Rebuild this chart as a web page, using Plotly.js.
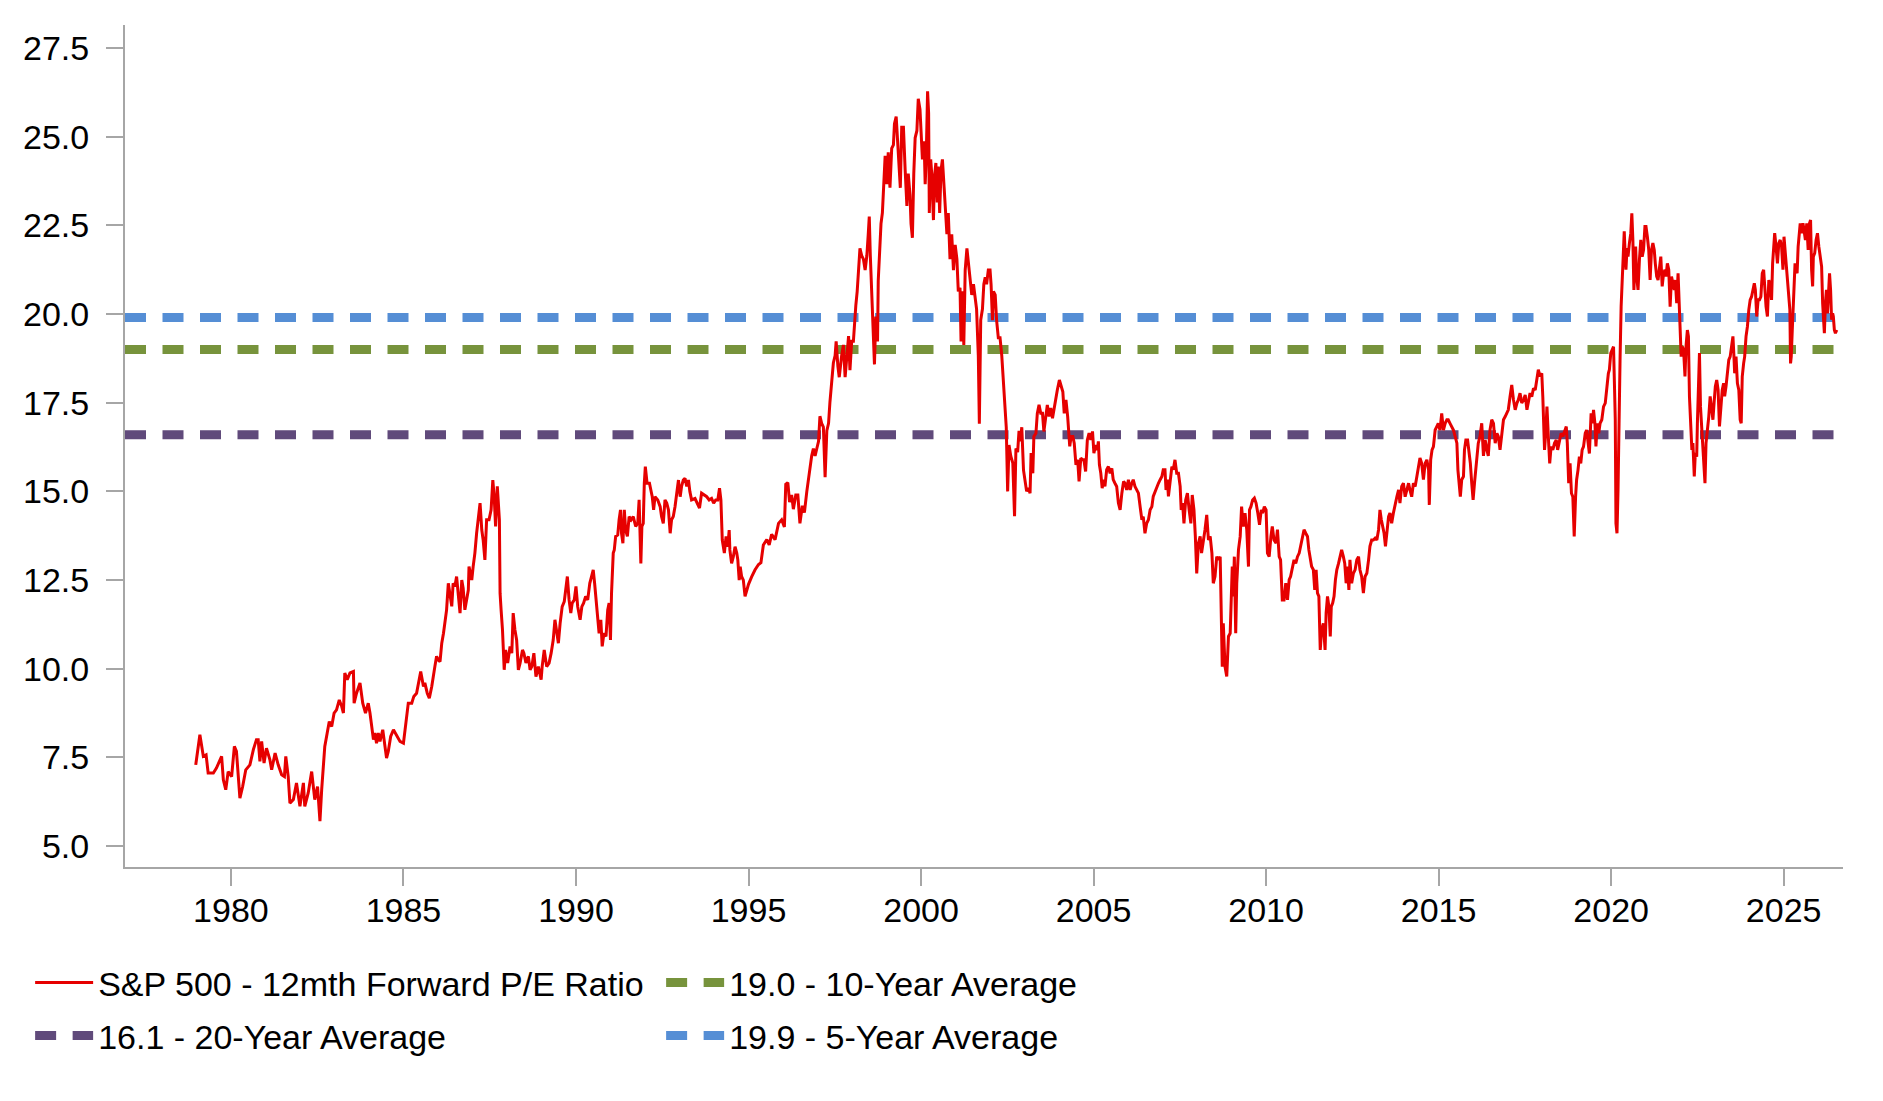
<!DOCTYPE html>
<html>
<head>
<meta charset="utf-8">
<script src="https://cdn.plot.ly/plotly-3.0.1.min.js"></script>
<style>
  html, body { margin: 0; padding: 0; background: #fff; }
  #chart { width: 1883px; height: 1101px; }
</style>
</head>
<body>
<div id="chart"></div>
<script>
// S&P 500 12mth forward P/E (x in decimal years)
const dates = [
  1978.98, 1979.10, 1979.20, 1979.28, 1979.34, 1979.49, 1979.58, 1979.73, 1979.78, 1979.85, 1979.92,
  1980.02, 1980.10, 1980.16, 1980.26, 1980.34, 1980.43, 1980.55, 1980.65, 1980.74, 1980.79, 1980.84, 1980.89, 1980.96,
  1981.03, 1981.13, 1981.18, 1981.28, 1981.37, 1981.47, 1981.55, 1981.59, 1981.66, 1981.71, 1981.81, 1981.90,
  1982.00, 1982.10, 1982.14, 1982.24, 1982.34, 1982.43, 1982.51, 1982.58, 1982.63, 1982.68, 1982.72, 1982.79, 1982.85, 1982.92, 1982.99,
  1983.06, 1983.14, 1983.21, 1983.26, 1983.30, 1983.37, 1983.45, 1983.55, 1983.57, 1983.64, 1983.74, 1983.82, 1983.90, 1983.98,
  1984.03, 1984.08, 1984.13, 1984.17, 1984.22, 1984.27, 1984.32, 1984.40, 1984.51, 1984.56, 1984.63, 1984.71, 1984.80, 1984.90,
  1985.00, 1985.07, 1985.14, 1985.24, 1985.30, 1985.38, 1985.46, 1985.50, 1985.58, 1985.62, 1985.69, 1985.75, 1985.82, 1985.87, 1985.91, 1985.96,
  1986.01, 1986.06, 1986.11, 1986.16, 1986.20, 1986.25, 1986.30, 1986.35, 1986.40, 1986.44, 1986.49, 1986.54, 1986.59, 1986.64, 1986.69, 1986.73,
  1986.78, 1986.88, 1986.90, 1986.98,
  1987.02, 1987.07, 1987.12, 1987.17, 1987.22, 1987.27, 1987.31, 1987.36, 1987.41, 1987.48, 1987.54, 1987.59, 1987.63, 1987.67, 1987.72, 1987.78, 1987.80, 1987.83, 1987.87, 1987.92, 1987.96,
  1988.02, 1988.09, 1988.14, 1988.18, 1988.23, 1988.28, 1988.33, 1988.38, 1988.45, 1988.49, 1988.55, 1988.62, 1988.67, 1988.72, 1988.78, 1988.84, 1988.91, 1988.99,
  1989.02, 1989.08, 1989.15, 1989.22, 1989.28, 1989.34, 1989.39, 1989.44, 1989.49, 1989.54, 1989.60, 1989.66, 1989.71, 1989.75, 1989.80, 1989.85, 1989.89, 1989.95,
  1990.00, 1990.05, 1990.12, 1990.17, 1990.22, 1990.28, 1990.34, 1990.40, 1990.45, 1990.50, 1990.54, 1990.59, 1990.63, 1990.67, 1990.72, 1990.76, 1990.81, 1990.87, 1990.92, 1990.96,
  1991.00, 1991.03, 1991.08, 1991.11, 1991.15, 1991.21, 1991.25, 1991.29, 1991.32, 1991.36, 1991.40, 1991.44, 1991.49, 1991.54, 1991.60, 1991.66, 1991.73, 1991.79, 1991.83, 1991.88, 1991.91, 1991.95, 1991.98,
  1992.01, 1992.06, 1992.13, 1992.17, 1992.21, 1992.25, 1992.29, 1992.37, 1992.44, 1992.48, 1992.53, 1992.58, 1992.63, 1992.68, 1992.73, 1992.77, 1992.82, 1992.87, 1992.92, 1992.97,
  1993.02, 1993.06, 1993.11, 1993.16, 1993.21, 1993.26, 1993.30, 1993.35, 1993.45, 1993.52, 1993.58, 1993.64, 1993.72, 1993.79, 1993.86, 1993.93, 1993.99,
  1994.05, 1994.11, 1994.16, 1994.20, 1994.22, 1994.24, 1994.30, 1994.35, 1994.40, 1994.44, 1994.46, 1994.51, 1994.56, 1994.61, 1994.66, 1994.69, 1994.73, 1994.76, 1994.80, 1994.85, 1994.90, 1994.95,
  1995.00, 1995.09, 1995.19, 1995.29, 1995.36, 1995.43, 1995.53, 1995.60, 1995.67, 1995.77, 1995.87, 1995.96,
  1996.04, 1996.08, 1996.14, 1996.19, 1996.25, 1996.30, 1996.37, 1996.43, 1996.49, 1996.56, 1996.62, 1996.69, 1996.74, 1996.78, 1996.83, 1996.88, 1996.93, 1996.98,
  1997.03, 1997.07, 1997.12, 1997.17, 1997.22, 1997.27, 1997.32, 1997.36, 1997.41, 1997.46, 1997.51, 1997.54, 1997.59, 1997.63, 1997.70, 1997.75, 1997.80, 1997.85, 1997.90, 1997.94, 1997.99,
  1998.04, 1998.07, 1998.11, 1998.15, 1998.19, 1998.23, 1998.28, 1998.33, 1998.38, 1998.43, 1998.47, 1998.50, 1998.53, 1998.57, 1998.62, 1998.65, 1998.69, 1998.74, 1998.76, 1998.81, 1998.84, 1998.88, 1998.92, 1998.96,
  1999.01, 1999.05, 1999.10, 1999.15, 1999.20, 1999.23, 1999.28, 1999.33, 1999.36, 1999.40, 1999.44, 1999.49, 1999.54, 1999.59, 1999.63, 1999.68, 1999.71, 1999.75, 1999.79, 1999.83, 1999.88, 1999.92, 1999.97,
  2000.00, 2000.04, 2000.09, 2000.12, 2000.15, 2000.19, 2000.22, 2000.24, 2000.28, 2000.31, 2000.36, 2000.39, 2000.43, 2000.47, 2000.50, 2000.54, 2000.58, 2000.62, 2000.67, 2000.70, 2000.75, 2000.79, 2000.84, 2000.89, 2000.94, 2000.99,
  2001.04, 2001.08, 2001.13, 2001.16, 2001.20, 2001.24, 2001.28, 2001.33, 2001.37, 2001.42, 2001.47, 2001.52, 2001.57, 2001.61, 2001.66, 2001.69, 2001.73, 2001.78, 2001.82, 2001.86, 2001.90, 2001.95,
  2002.00, 2002.03, 2002.07, 2002.10, 2002.15, 2002.19, 2002.24, 2002.29, 2002.34, 2002.39, 2002.42, 2002.47, 2002.51, 2002.55, 2002.60, 2002.66, 2002.71, 2002.75, 2002.80, 2002.84, 2002.88, 2002.92, 2002.97,
  2003.02, 2003.06, 2003.11, 2003.16, 2003.19, 2003.24, 2003.27, 2003.33, 2003.37, 2003.42, 2003.47, 2003.52, 2003.56, 2003.61, 2003.66, 2003.71, 2003.76, 2003.81, 2003.86, 2003.91, 2003.95,
  2004.01, 2004.06, 2004.11, 2004.15, 2004.20, 2004.25, 2004.28, 2004.31, 2004.35, 2004.40, 2004.44, 2004.49, 2004.54, 2004.58, 2004.63, 2004.68, 2004.72, 2004.77, 2004.82, 2004.87, 2004.92, 2004.97,
  2005.01, 2005.06, 2005.11, 2005.14, 2005.17, 2005.21, 2005.25, 2005.29, 2005.33, 2005.38, 2005.43, 2005.48, 2005.53, 2005.57, 2005.62, 2005.67, 2005.72, 2005.77, 2005.82, 2005.87, 2005.91, 2005.96,
  2006.01, 2006.06, 2006.11, 2006.15, 2006.20, 2006.25, 2006.30, 2006.35, 2006.40, 2006.44, 2006.49, 2006.54, 2006.59, 2006.64, 2006.69, 2006.73, 2006.78, 2006.83, 2006.88, 2006.93, 2006.98,
  2007.02, 2007.07, 2007.10, 2007.14, 2007.17, 2007.22, 2007.27, 2007.31, 2007.36, 2007.41, 2007.46, 2007.51, 2007.54, 2007.58, 2007.62, 2007.67, 2007.72, 2007.77, 2007.82, 2007.86, 2007.91, 2007.95, 2007.99,
  2008.04, 2008.09, 2008.13, 2008.18, 2008.23, 2008.28, 2008.33, 2008.38, 2008.43, 2008.47, 2008.52, 2008.57, 2008.62, 2008.67, 2008.70, 2008.73, 2008.76, 2008.81, 2008.86, 2008.91, 2008.96, 2008.99,
  2009.02, 2009.05, 2009.08, 2009.12, 2009.15, 2009.20, 2009.25, 2009.29, 2009.34, 2009.39, 2009.44, 2009.49, 2009.52, 2009.56, 2009.61, 2009.66, 2009.71, 2009.76, 2009.81, 2009.86, 2009.90, 2009.95,
  2010.00, 2010.04, 2010.09, 2010.14, 2010.18, 2010.23, 2010.29, 2010.33, 2010.38, 2010.42, 2010.47, 2010.52, 2010.57, 2010.62, 2010.67, 2010.71, 2010.76, 2010.81, 2010.86, 2010.91, 2010.96,
  2011.00, 2011.05, 2011.10, 2011.15, 2011.20, 2011.24, 2011.32, 2011.37, 2011.41, 2011.45, 2011.49, 2011.53, 2011.57, 2011.61, 2011.66, 2011.71, 2011.74, 2011.78, 2011.82, 2011.86, 2011.89, 2011.93, 2011.97,
  2012.01, 2012.05, 2012.10, 2012.14, 2012.19, 2012.24, 2012.28, 2012.32, 2012.36, 2012.40, 2012.43, 2012.48, 2012.53, 2012.58, 2012.63, 2012.68, 2012.72, 2012.77, 2012.82, 2012.87, 2012.92, 2012.97,
  2013.01, 2013.06, 2013.11, 2013.16, 2013.21, 2013.26, 2013.30, 2013.34, 2013.38, 2013.42, 2013.46, 2013.50, 2013.55, 2013.59, 2013.64, 2013.69, 2013.74, 2013.79, 2013.84, 2013.88, 2013.93, 2013.98,
  2014.03, 2014.08, 2014.13, 2014.17, 2014.22, 2014.27, 2014.32, 2014.37, 2014.42, 2014.46, 2014.51, 2014.56, 2014.61, 2014.66, 2014.71, 2014.73, 2014.77, 2014.81, 2014.85, 2014.90, 2014.95, 2014.99,
  2015.04, 2015.09, 2015.14, 2015.19, 2015.24, 2015.28, 2015.33, 2015.38, 2015.43, 2015.48, 2015.53, 2015.56, 2015.59, 2015.63, 2015.67, 2015.72, 2015.75, 2015.79, 2015.84, 2015.88, 2015.92, 2015.96,
  2016.00, 2016.04, 2016.08, 2016.11, 2016.15, 2016.20, 2016.25, 2016.30, 2016.35, 2016.40, 2016.44, 2016.49, 2016.54, 2016.59, 2016.64, 2016.69, 2016.73, 2016.78, 2016.83, 2016.88, 2016.93, 2016.98,
  2017.02, 2017.07, 2017.12, 2017.17, 2017.22, 2017.27, 2017.31, 2017.36, 2017.41, 2017.46, 2017.51, 2017.56, 2017.60, 2017.65, 2017.70, 2017.75, 2017.80, 2017.85, 2017.89, 2017.94, 2017.99,
  2018.02, 2018.04, 2018.07, 2018.11, 2018.14, 2018.18, 2018.22, 2018.26, 2018.31, 2018.36, 2018.41, 2018.45, 2018.50, 2018.55, 2018.60, 2018.65, 2018.70, 2018.73, 2018.77, 2018.81, 2018.85, 2018.89, 2018.93, 2018.97,
  2019.00, 2019.04, 2019.08, 2019.12, 2019.16, 2019.20, 2019.25, 2019.29, 2019.34, 2019.37, 2019.42, 2019.46, 2019.49, 2019.53, 2019.56, 2019.60, 2019.64, 2019.68, 2019.73, 2019.78, 2019.83, 2019.85, 2019.89, 2019.92, 2019.95, 2019.99,
  2020.03, 2020.07, 2020.10, 2020.12, 2020.14, 2020.17, 2020.20, 2020.23, 2020.26, 2020.29, 2020.32, 2020.35, 2020.38, 2020.41, 2020.43, 2020.46, 2020.49, 2020.53, 2020.57, 2020.60, 2020.63, 2020.66, 2020.69, 2020.71, 2020.74, 2020.78, 2020.82, 2020.86, 2020.90, 2020.94, 2020.98,
  2021.01, 2021.05, 2021.09, 2021.13, 2021.17, 2021.21, 2021.25, 2021.28, 2021.32, 2021.36, 2021.40, 2021.44, 2021.48, 2021.52, 2021.56, 2021.59, 2021.63, 2021.67, 2021.71, 2021.75, 2021.79, 2021.83, 2021.86, 2021.90, 2021.94, 2021.97,
  2022.00, 2022.03, 2022.06, 2022.10, 2022.14, 2022.17, 2022.21, 2022.24, 2022.27, 2022.31, 2022.34, 2022.37, 2022.41, 2022.44, 2022.48, 2022.50, 2022.53, 2022.56, 2022.59, 2022.62, 2022.66, 2022.70, 2022.72, 2022.75, 2022.79, 2022.83, 2022.87, 2022.91, 2022.95, 2022.99,
  2023.02, 2023.06, 2023.10, 2023.14, 2023.18, 2023.22, 2023.26, 2023.29, 2023.33, 2023.37, 2023.41, 2023.45, 2023.49, 2023.53, 2023.56, 2023.58, 2023.62, 2023.66, 2023.70, 2023.74, 2023.77, 2023.80, 2023.84, 2023.87, 2023.91, 2023.95, 2023.99,
  2024.03, 2024.07, 2024.11, 2024.15, 2024.18, 2024.22, 2024.26, 2024.30, 2024.34, 2024.38, 2024.42, 2024.45, 2024.49, 2024.53, 2024.57, 2024.61, 2024.65, 2024.68, 2024.71, 2024.74, 2024.78, 2024.82, 2024.86, 2024.90, 2024.94, 2024.98,
  2025.01, 2025.05, 2025.09, 2025.12, 2025.15, 2025.18, 2025.20, 2025.22, 2025.25, 2025.28, 2025.30, 2025.33, 2025.36, 2025.39, 2025.42, 2025.45, 2025.48, 2025.52, 2025.56, 2025.59, 2025.63, 2025.67, 2025.71, 2025.75, 2025.78, 2025.81, 2025.84, 2025.86, 2025.90, 2025.94, 2025.98,
  2026.02, 2026.06, 2026.10, 2026.13, 2026.16, 2026.18, 2026.21, 2026.24, 2026.27, 2026.30, 2026.33, 2026.36, 2026.39, 2026.42, 2026.44, 2026.47, 2026.50, 2026.54
];
const forwardPE = [
  7.29, 8.14, 7.53, 7.57, 7.06, 7.06, 7.20, 7.53, 6.87, 6.59, 7.10,
  6.96, 7.81, 7.67, 6.35, 6.68, 7.15, 7.29, 7.72, 8.00, 8.00, 7.39, 7.95, 7.34,
  7.76, 7.43, 7.15, 7.62, 7.29, 7.01, 6.96, 7.53, 6.96, 6.21, 6.31, 6.78,
  6.12, 6.78, 6.12, 6.50, 7.10, 6.31, 6.68, 5.70, 6.59, 7.43, 7.81, 8.19, 8.51, 8.37, 8.75,
  8.84, 9.12, 8.94, 8.75, 9.88, 9.69, 9.88, 9.92, 9.03, 9.31, 9.60, 9.03, 8.75, 9.03,
  8.75, 8.37, 8.00, 8.19, 7.90, 8.19, 7.95, 8.28, 7.48, 7.67, 8.09, 8.28, 8.14, 7.95,
  7.90, 8.47, 9.03, 9.03, 9.22, 9.31, 9.69, 9.92, 9.50, 9.60, 9.31, 9.17, 9.50, 9.88, 10.06, 10.35,
  10.25, 10.20, 10.72, 11.00, 11.33, 11.66, 12.41, 12.13, 11.76, 12.41, 12.32, 12.60, 11.94, 11.57, 12.50, 12.27,
  11.66, 12.22, 12.88, 12.50,
  12.88, 13.26, 13.82, 14.29, 14.67, 13.91, 13.63, 13.07, 14.20, 14.20, 14.48, 15.32, 14.85, 14.01, 15.14, 14.20, 12.13, 11.66, 11.10, 9.97, 10.53,
  10.16, 10.63, 10.44, 11.57, 11.10, 10.81, 9.97, 10.16, 10.53, 10.44, 10.16, 10.35, 9.97, 10.06, 10.44, 9.78, 10.06, 9.69,
  10.06, 10.53, 10.06, 10.16, 10.44, 10.81, 11.38, 11.10, 10.72, 11.28, 11.75, 11.89, 12.41, 12.60, 11.94, 11.57, 11.85, 11.94,
  12.32, 11.75, 11.38, 11.75, 11.85, 12.04, 11.94, 12.41, 12.60, 12.79, 12.41, 11.94, 11.47, 11.00, 11.38, 10.63, 11.00, 10.91, 11.66, 11.85,
  10.81, 12.13, 13.26, 13.35, 13.73, 13.77, 14.20, 14.48, 13.82, 13.54, 14.48, 13.91, 13.73, 14.29, 14.20, 14.29, 14.01, 14.10, 14.76, 12.97, 14.01, 14.10, 15.23,
  15.70, 15.23, 15.23, 15.04, 14.85, 14.48, 14.85, 14.76, 14.57, 14.29, 14.10, 14.76, 14.67, 14.48, 13.82, 14.20, 14.29, 14.57, 15.04, 15.32,
  14.85, 15.14, 15.32, 15.37, 15.14, 15.32, 15.00, 14.76, 14.80, 14.67, 14.53, 14.95, 14.90, 14.85, 14.76, 14.80, 14.67,
  14.76, 14.76, 15.09, 14.76, 14.20, 13.63, 13.26, 13.73, 13.44, 13.91, 13.35, 12.97, 13.16, 13.44, 13.26, 13.07, 12.50, 12.88, 12.60, 12.50, 12.04, 12.22,
  12.38, 12.59, 12.79, 12.94, 12.99, 13.49, 13.64, 13.49, 13.79, 13.64, 14.10, 14.20,
  14.00, 15.20, 15.25, 14.70, 14.90, 14.50, 14.90, 14.90, 14.10, 14.60, 14.40, 15.00, 15.40, 15.70, 16.00, 16.21, 16.00, 16.21,
  16.41, 17.12, 16.92, 16.81, 15.40, 16.71, 16.92, 17.52, 18.12, 18.63, 18.83, 19.23, 18.53, 18.22, 18.83, 19.13, 18.22, 18.83, 19.38, 18.42, 19.23,
  19.23, 19.83, 20.24, 20.64, 21.24, 21.85, 21.65, 21.55, 21.24, 21.65, 22.25, 22.75, 21.65, 20.54, 19.33, 18.58, 19.93, 19.23, 20.94, 21.95, 22.55, 22.85, 23.76, 24.46,
  23.66, 24.56, 23.56, 24.67, 24.77, 25.37, 25.57, 24.56, 23.96, 23.56, 25.27, 25.27, 24.06, 23.05, 23.96, 23.36, 22.55, 22.15, 23.96, 24.97, 25.17, 26.07, 25.77,
  24.97, 24.36, 24.87, 23.66, 24.36, 26.28, 25.67, 22.85, 24.36, 23.96, 22.65, 23.86, 24.26, 23.15, 24.16, 22.85, 24.06, 24.36, 23.56, 23.05, 22.25, 22.85, 21.55, 22.25, 21.24, 21.95,
  21.55, 20.64, 20.74, 19.23, 20.64, 19.13, 21.24, 21.85, 21.44, 20.84, 20.54, 20.84, 20.44, 20.14, 18.83, 16.91, 19.83, 20.14, 20.84, 21.04, 20.84, 21.24,
  21.24, 20.84, 19.83, 20.64, 20.54, 19.83, 19.33, 19.33, 18.83, 18.02, 17.52, 16.81, 15.00, 16.31, 16.00, 15.80, 14.30, 16.21, 16.11, 16.71, 16.41, 16.81, 15.60,
  15.30, 15.00, 15.10, 14.95, 16.08, 15.51, 16.55, 16.64, 17.20, 17.44, 17.20, 17.20, 16.69, 17.11, 17.44, 17.11, 17.35, 17.06, 17.39, 17.58, 17.86,
  18.14, 18.00, 17.81, 17.20, 17.58, 17.11, 16.64, 16.27, 16.55, 16.55, 16.36, 15.75, 15.89, 15.28, 15.94, 15.89, 15.89, 15.56, 16.45, 16.64, 16.45, 16.69,
  16.08, 16.31, 16.17, 16.41, 15.75, 15.51, 15.09, 15.33, 15.14, 15.61, 15.70, 15.51, 15.65, 15.33, 15.23, 15.14, 14.67, 14.48, 14.95, 15.28, 15.23, 15.04,
  15.33, 15.04, 15.23, 15.33, 15.14, 15.04, 14.95, 14.57, 14.20, 14.29, 13.82, 14.10, 14.20, 14.48, 14.57, 14.86, 15.00, 15.14, 15.23, 15.33, 15.42,
  15.61, 15.61, 15.04, 15.33, 14.86, 15.33, 15.70, 15.61, 15.89, 15.51, 15.51, 15.14, 14.48, 14.67, 14.10, 14.76, 14.95, 14.48, 14.10, 14.90, 14.48, 13.73, 12.69,
  13.54, 13.73, 13.26, 13.54, 13.92, 14.34, 13.63, 13.73, 13.26, 12.41, 12.60, 13.16, 13.07, 13.16, 11.47, 10.06, 11.28, 10.06, 9.78, 10.91, 11.00, 12.41,
  12.88, 12.04, 13.16, 11.00, 12.41, 13.35, 13.73, 14.57, 14.01, 14.39, 13.92, 12.88, 14.48, 14.57, 14.76, 14.81, 14.67, 14.39, 14.06, 14.48, 14.39, 14.57,
  14.48, 13.26, 13.16, 13.73, 14.01, 13.63, 13.54, 13.92, 13.16, 13.07, 11.94, 11.94, 12.41, 11.94, 12.51, 12.60, 12.88, 13.07, 12.97, 13.16, 13.26,
  13.45, 13.73, 13.92, 13.82, 13.73, 13.35, 12.88, 12.79, 12.22, 12.79, 12.13, 12.04, 10.53, 11.10, 11.28, 10.53, 11.57, 12.04, 11.75, 10.91, 11.75, 11.85, 12.04,
  12.51, 12.79, 12.97, 13.16, 13.35, 13.16, 12.97, 12.41, 12.88, 12.22, 13.07, 12.41, 12.69, 12.79, 13.07, 13.16, 12.79, 12.60, 12.13, 12.60, 12.69, 13.07,
  13.45, 13.63, 13.63, 13.68, 13.63, 13.92, 14.48, 14.20, 14.01, 13.82, 13.45, 13.82, 14.29, 14.39, 14.10, 14.39, 14.67, 14.85, 15.04, 14.67, 15.14, 15.23,
  14.85, 15.04, 15.23, 15.04, 14.85, 15.23, 15.14, 15.42, 15.70, 15.94, 15.79, 15.33, 15.79, 15.89, 15.60, 14.62, 15.89, 16.17, 16.26, 16.73, 16.83, 16.92,
  16.73, 17.20, 16.73, 16.92, 17.02, 17.02, 16.92, 16.83, 16.73, 16.55, 16.36, 15.60, 15.33, 14.85, 15.33, 15.42, 16.17, 16.45, 16.45, 16.17, 15.79, 15.23,
  14.76, 15.23, 15.60, 15.89, 16.36, 16.55, 16.92, 16.00, 16.45, 16.17, 16.00, 16.73, 17.02, 16.92, 16.36, 16.64, 16.55, 16.17, 16.64, 17.02, 17.11, 17.20,
  17.30, 17.67, 18.00, 17.58, 17.30, 17.49, 17.58, 17.77, 17.49, 17.58, 17.72, 17.30, 17.49, 17.77, 17.67, 17.91, 17.86, 18.14, 18.43, 18.24, 18.33,
  17.67, 17.02, 16.17, 16.73, 17.39, 16.55, 15.79, 16.26, 16.17, 16.36, 16.45, 16.17, 16.45, 16.64, 16.55, 16.73, 16.83, 16.36, 15.23, 15.79, 14.95, 14.85, 13.73, 14.85,
  15.33, 15.60, 15.98, 15.79, 16.17, 16.26, 16.64, 16.73, 16.26, 16.07, 17.20, 16.92, 17.30, 16.92, 16.27, 16.92, 16.64, 16.92, 17.02, 17.39, 17.49, 17.77, 18.05, 18.33, 18.43, 18.90,
  18.99, 19.08, 17.86, 17.02, 14.10, 13.82, 15.04, 17.86, 18.80, 20.21, 20.87, 21.90, 22.33, 21.62, 21.25, 21.86, 21.62, 22.00, 22.28, 22.84, 22.09, 20.68, 21.62, 21.90, 21.06, 20.68, 21.53, 22.09, 21.62, 21.81, 22.47,
  22.47, 22.18, 21.81, 20.96, 21.81, 22.00, 21.81, 21.43, 21.06, 20.96, 21.34, 21.62, 20.78, 21.15, 21.25, 21.06, 21.43, 21.25, 20.21, 21.06, 20.87, 20.68, 20.96, 20.31, 21.15, 20.12,
  19.46, 18.80, 19.08, 18.99, 18.24, 19.08, 19.55, 19.37, 17.68, 16.92, 16.17, 16.36, 15.42, 16.08, 15.98, 16.92, 18.33, 18.90, 17.39, 16.92, 16.17, 15.61, 15.23, 16.36, 16.73, 17.11, 17.68, 17.30, 17.02, 17.58,
  17.96, 18.14, 17.86, 16.83, 17.49, 17.86, 18.05, 17.68, 17.96, 18.33, 18.71, 18.80, 19.08, 19.37, 18.80, 18.33, 18.80, 18.05, 17.86, 17.02, 16.92, 18.24, 18.61, 18.80, 19.37, 19.65, 20.12,
  20.40, 20.49, 20.68, 20.87, 20.68, 19.93, 20.40, 20.40, 20.49, 21.15, 21.25, 20.68, 20.21, 19.93, 20.96, 20.78, 20.40, 21.43, 21.81, 22.28, 21.90, 21.43, 22.00, 22.09, 21.90, 21.25,
  22.18, 21.72, 21.34, 21.06, 20.68, 20.12, 18.61, 18.80, 19.55, 20.31, 20.68, 21.43, 21.25, 21.15, 21.90, 22.18, 22.56, 22.28, 22.56, 22.37, 22.09, 22.56, 21.81, 22.56, 22.65, 21.25, 20.78, 21.62, 21.72, 22.09, 22.28,
  21.90, 21.53, 21.34, 20.31, 19.74, 19.46, 20.31, 20.68, 20.02, 20.87, 21.15, 20.68, 19.84, 20.02, 19.93, 19.55, 19.46, 19.55
];

// horizontal averages (label text, level drawn in the picture)
const avgNames = ['16.1 - 20-Year Average', '19.0 - 10-Year Average', '19.9 - 5-Year Average'];
const avgLevels = [16.6, 19.0, 19.9];
const avgColors = ['#604A7B', '#77933C', '#558ED5'];
const avgLegend = ['legend2', 'legend', 'legend2'];
const avgRank = [1, 2, 2];

const xRange = [1976.93, 2026.72];
const yRange = [4.41, 28.15];

const traces = [];
for (let i = 0; i < avgLevels.length; i++) {
    traces.push({
        x: xRange, y: [avgLevels[i], avgLevels[i]],
        type: 'scatter', mode: 'lines', name: avgNames[i],
        line: {color: avgColors[i], width: 9, dash: '21px,16.5px'},
        legend: avgLegend[i], legendrank: avgRank[i],
        hoverinfo: 'skip'
    });
}
traces.push({
    x: dates, y: forwardPE, type: 'scatter', mode: 'lines',
    name: 'S&P 500 - 12mth Forward P/E Ratio',
    line: {color: '#E60000', width: 3},
    legend: 'legend', legendrank: 1, hoverinfo: 'skip'
});

const axisGrey = '#A6A6A6';
const fontFamily = '"Liberation Sans", Arial, sans-serif';
const legendBase = {
    orientation: 'h', xref: 'container', yref: 'container',
    xanchor: 'left', yanchor: 'middle', x: 0.016,
    itemwidth: 58, entrywidth: 558, bgcolor: 'rgba(0,0,0,0)',
    font: {family: fontFamily, size: 34, color: '#000'}
};

const layout = {
    width: 1883, height: 1101,
    margin: {l: 125, r: 40, t: 25, b: 234},
    paper_bgcolor: '#fff', plot_bgcolor: '#fff',
    font: {family: fontFamily, size: 34, color: '#000'},
    showlegend: true,
    hovermode: false,
    xaxis: {
        range: xRange, tick0: 1980, dtick: 5, tickformat: 'd',
        showgrid: false, zeroline: false,
        showline: true, linecolor: axisGrey, linewidth: 2,
        ticks: 'outside', ticklen: 17, tickwidth: 2, tickcolor: axisGrey,
        ticklabelstandoff: -5
    },
    yaxis: {
        range: yRange, tick0: 0, dtick: 2.5, tickformat: '.1f',
        showgrid: false, zeroline: false,
        showline: true, linecolor: axisGrey, linewidth: 2,
        ticks: 'outside', ticklen: 17, tickwidth: 2, tickcolor: axisGrey,
        ticklabelstandoff: 10
    },
    legend: Object.assign({}, legendBase, {y: 0.1072}),
    legend2: Object.assign({}, legendBase, {y: 0.0591})
};

Plotly.newPlot('chart', traces, layout, {displayModeBar: false, staticPlot: true});
</script>
</body>
</html>
